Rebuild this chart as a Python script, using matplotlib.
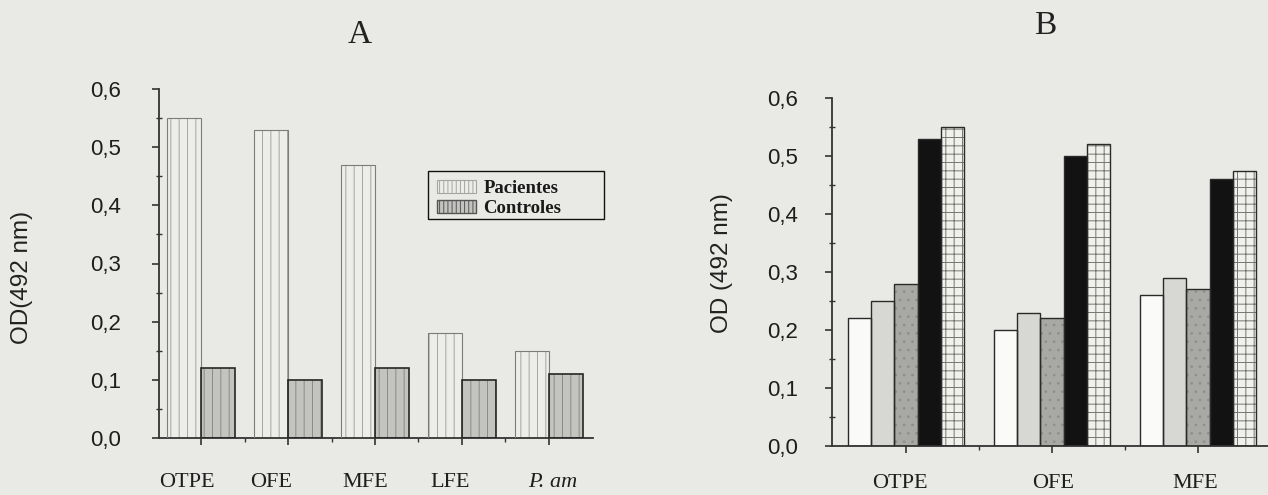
import matplotlib
matplotlib.use('Agg')
import matplotlib.pyplot as plt
import matplotlib.patches as mpatches
import numpy as np
from matplotlib.transforms import ScaledTranslation

# ---------------- data ----------------
cats_A = ['OTPE', 'OFE', 'MFE', 'LFE', 'P. am']
pacientes = [0.55, 0.53, 0.47, 0.18, 0.15]
controles = [0.12, 0.10, 0.12, 0.10, 0.11]

cats_B = ['OTPE', 'OFE', 'MFE']
serie_b1 = [0.22, 0.20, 0.26]
serie_b2 = [0.25, 0.23, 0.29]
serie_b3 = [0.28, 0.22, 0.27]
serie_b4 = [0.53, 0.50, 0.46]
serie_b5 = [0.55, 0.52, 0.475]

yticks = [0.0, 0.1, 0.2, 0.3, 0.4, 0.5, 0.6]
ytick_labels = ['0,0', '0,1', '0,2', '0,3', '0,4', '0,5', '0,6']

# ---------------- style ----------------
BG = '#e9e9e5'
SPINE = '#333333'
SANS = 'Liberation Sans'
SERIF = 'Liberation Serif'
plt.rcParams['hatch.linewidth'] = 0.7

W, H = 1268, 495
fig = plt.figure(figsize=(W / 100, H / 100), dpi=100, facecolor=BG)


def fx(px):
    return px / W


def fy(py):
    return 1 - py / H


axA = fig.add_axes([fx(159), fy(438), fx(593) - fx(159), fy(89) - fy(438)])
axB = fig.add_axes([fx(832), fy(446), 1 - fx(832), fy(98) - fy(446)])


def hatched_bar(ax, x, h, w, face, hatch, hcolor, edge, lw):
    ax.bar(x, h, w, color=face, hatch=hatch, edgecolor=hcolor, linewidth=0, zorder=2)
    ax.bar(x, h, w, fill=False, edgecolor=edge, linewidth=lw, zorder=3)


def style_axes(ax, ypad_px, xpad_px, xlim, minor_x):
    ax.set_facecolor('none')
    for s in ['top', 'right']:
        ax.spines[s].set_visible(False)
    for s in ['left', 'bottom']:
        ax.spines[s].set_color(SPINE)
        ax.spines[s].set_linewidth(1.3)
    ax.set_ylim(0, 0.6)
    ax.set_xlim(*xlim)
    ax.set_yticks(yticks)
    ax.set_yticklabels(ytick_labels, family=SANS, fontsize=16, color='#1e1e1e')
    ax.set_yticks([0.05, 0.15, 0.25, 0.35, 0.45, 0.55], minor=True)
    ax.set_xticks(minor_x, minor=True)
    ax.tick_params(axis='y', which='major', direction='out', length=5, width=1.2,
                   color=SPINE, pad=ypad_px * 0.72)
    ax.tick_params(axis='y', which='minor', direction='inout', length=4, width=1.0,
                   color=SPINE)
    ax.tick_params(axis='x', which='major', direction='out', length=5, width=1.2,
                   color=SPINE, pad=xpad_px * 0.72)
    ax.tick_params(axis='x', which='minor', direction='out', length=3, width=1.0,
                   color=SPINE)


def set_xlabels(ax, cats, offsets, italic_last=False):
    xs = np.arange(len(cats))
    ax.set_xticks(xs)
    ax.set_xticklabels(cats, family=SERIF, fontsize=16, color='#1e1e1e')
    labels = ax.get_xticklabels()
    for lbl, dx in zip(labels, offsets):
        lbl.set_transform(lbl.get_transform() + ScaledTranslation(dx / 100, 0, fig.dpi_scale_trans))
    if italic_last:
        labels[-1].set_fontstyle('italic')


# ---------------- panel A ----------------
xA = np.arange(len(cats_A))
wA = 0.39
PAC_FACE, PAC_HATCH, PAC_EDGE = '#ededea', '#a4a4a0', '#7c7c78'
CON_FACE, CON_HATCH, CON_EDGE = '#c3c3bf', '#8a8a86', '#262626'
hatched_bar(axA, xA - wA / 2, pacientes, wA, PAC_FACE, '||', PAC_HATCH, PAC_EDGE, 0.8)
hatched_bar(axA, xA + wA / 2, controles, wA, CON_FACE, '||', CON_HATCH, CON_EDGE, 1.2)
style_axes(axA, 31, 28, (-0.483, 4.506), [0.5, 1.5, 2.5, 3.5])
set_xlabels(axA, cats_A, [-14, -17, -10, -12, 4], italic_last=True)

# legend frame (drawn separately) + legend content
fig.patches.append(mpatches.Rectangle((fx(428), fy(219)), fx(604) - fx(428), fy(171) - fy(219),
                                      transform=fig.transFigure, facecolor=BG,
                                      edgecolor='#111111', linewidth=1.0, zorder=5))
handles = [mpatches.Patch(facecolor=PAC_FACE, edgecolor=PAC_HATCH, hatch='||||', linewidth=0.8),
           mpatches.Patch(facecolor=CON_FACE, edgecolor='#555555', hatch='||||', linewidth=1.0)]
leg = fig.legend(handles, ['Pacientes', 'Controles'], loc='upper left',
                 bbox_to_anchor=(fx(437), fy(180)), borderaxespad=0, frameon=False,
                 prop={'family': SERIF, 'size': 13.5, 'weight': 'bold'},
                 handlelength=2.1, handleheight=0.65, handletextpad=0.37,
                 borderpad=0.0, labelspacing=0.17)
leg.set_zorder(6)
for t in leg.get_texts():
    t.set_color('#1a1a1a')

# ---------------- panel B ----------------
xB = np.arange(len(cats_B))
wB = 0.16
series_B = [serie_b1, serie_b2, serie_b3, serie_b4, serie_b5]
faces_B = ['#fafaf8', '#d7d7d3', '#a8a8a4', '#121212', '#f0f0ed']
hatches_B = [None, None, '..', None, '++']
hcolors_B = ['#fafaf8', '#d7d7d3', '#8e8e8a', '#121212', '#77776f']
for i, (vals, fc, ht, hc) in enumerate(zip(series_B, faces_B, hatches_B, hcolors_B)):
    hatched_bar(axB, xB + (i - 2) * wB, vals, wB, fc, ht, hc, '#2a2a2a', 1.0)
style_axes(axB, 27, 21, (-0.507, 2.48), [0.5, 1.5])
set_xlabels(axB, cats_B, [-6, 1, -3])

# ---------------- titles & y labels ----------------
fig.text(fx(360), fy(43), 'A', ha='center', va='baseline', family=SERIF, fontsize=24,
         color='#222222')
fig.text(fx(1045), fy(34), 'B', ha='center', va='baseline', family=SERIF, fontsize=24,
         color='#222222')
fig.text(fx(22), fy(277), 'OD(492 nm)', rotation=90, ha='center', va='center',
         family=SANS, fontsize=17.5, color='#222222')
fig.text(fx(722), fy(263), 'OD (492 nm)', rotation=90, ha='center', va='center',
         family=SANS, fontsize=17.5, color='#222222')

fig.savefig('out.png', dpi=100, facecolor=BG)
